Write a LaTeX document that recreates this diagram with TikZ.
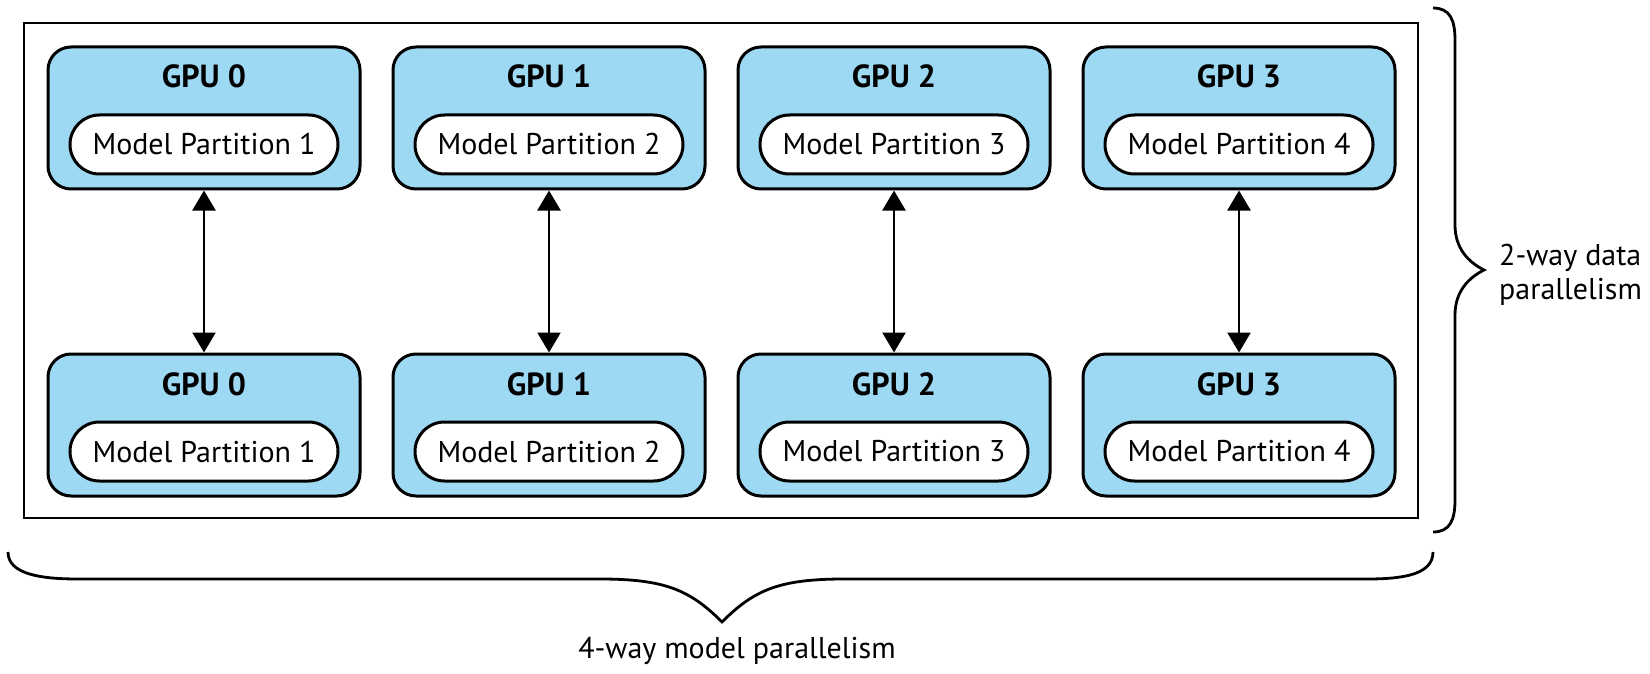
\documentclass[tikz,border=0pt]{standalone}
\usepackage{fontspec}
\setmainfont{PT Sans}
\usetikzlibrary{arrows.meta,shapes.misc}
\definecolor{gpublue}{RGB}{158,217,243}
\begin{document}
\begin{tikzpicture}[x=1pt,y=-1pt,
  frame/.style={draw=black, line width=2.8pt, fill=white, inner sep=0pt, minimum width=1394pt, minimum height=495pt},
  gpubox/.style={draw=black, fill=gpublue, line width=3pt, rounded corners=23pt, minimum width=312pt, minimum height=142pt, inner sep=0pt},
  pill/.style={draw=black, fill=white, line width=3pt, rounded rectangle, minimum width=268pt, minimum height=59pt, inner sep=0pt, font=\fontsize{30pt}{36pt}\selectfont},
  gpulabel/.style={anchor=base, inner sep=0pt, font=\fontsize{32pt}{38pt}\selectfont\bfseries},
  dblarrow/.style={{Triangle[width=23pt,length=20pt]}-{Triangle[width=23pt,length=20pt]}, line width=2.5pt},
  bracepath/.style={draw=black, line width=2.8pt},
  caption/.style={inner sep=0pt, font=\fontsize{30pt}{36pt}\selectfont}
]
\useasboundingbox (0,0) rectangle (1650,674);

\node[frame] (outer) at (721,270.5) {};

\foreach \i/\x in {0/204,1/549,2/894,3/1239}{
  \pgfmathtruncatemacro{\p}{\i+1}
  \node[gpubox] (gt\i) at (\x,118) {};
  \node[gpulabel] (lt\i) at (\x,88) {GPU \i};
  \node[pill] (pt\i) at (\x,144.5) {Model Partition \p};
  \node[gpubox] (gb\i) at (\x,425) {};
  \node[gpulabel] (lb\i) at (\x,395) {GPU \i};
  \node[pill] (pb\i) at (\x,451.5) {Model Partition \p};
  \draw[dblarrow] (gt\i.south) -- (gb\i.north);
}

% right brace
\draw[bracepath] (1433,8) .. controls (1450,8) and (1455,20) .. (1455,40)
  -- (1455,225) .. controls (1455,248) and (1468,262) .. (1484,270)
  .. controls (1468,278) and (1455,292) .. (1455,315)
  -- (1455,500) .. controls (1455,520) and (1450,532) .. (1433,532);
\node[caption, anchor=base west] (datapar1) at (1499,265) {2-way data};
\node[caption, anchor=base west] (datapar2) at (1499,299) {parallelism};

% bottom brace
\draw[bracepath] (8,552) .. controls (8,574) and (40,579) .. (78,579)
  -- (600,579) .. controls (665,579) and (690,590) .. (722,622)
  .. controls (754,590) and (779,579) .. (844,579)
  -- (1367,579) .. controls (1405,579) and (1433,574) .. (1433,552);
\node[caption, anchor=base] (modelpar) at (737,658) {4-way model parallelism};
\end{tikzpicture}
\end{document}
